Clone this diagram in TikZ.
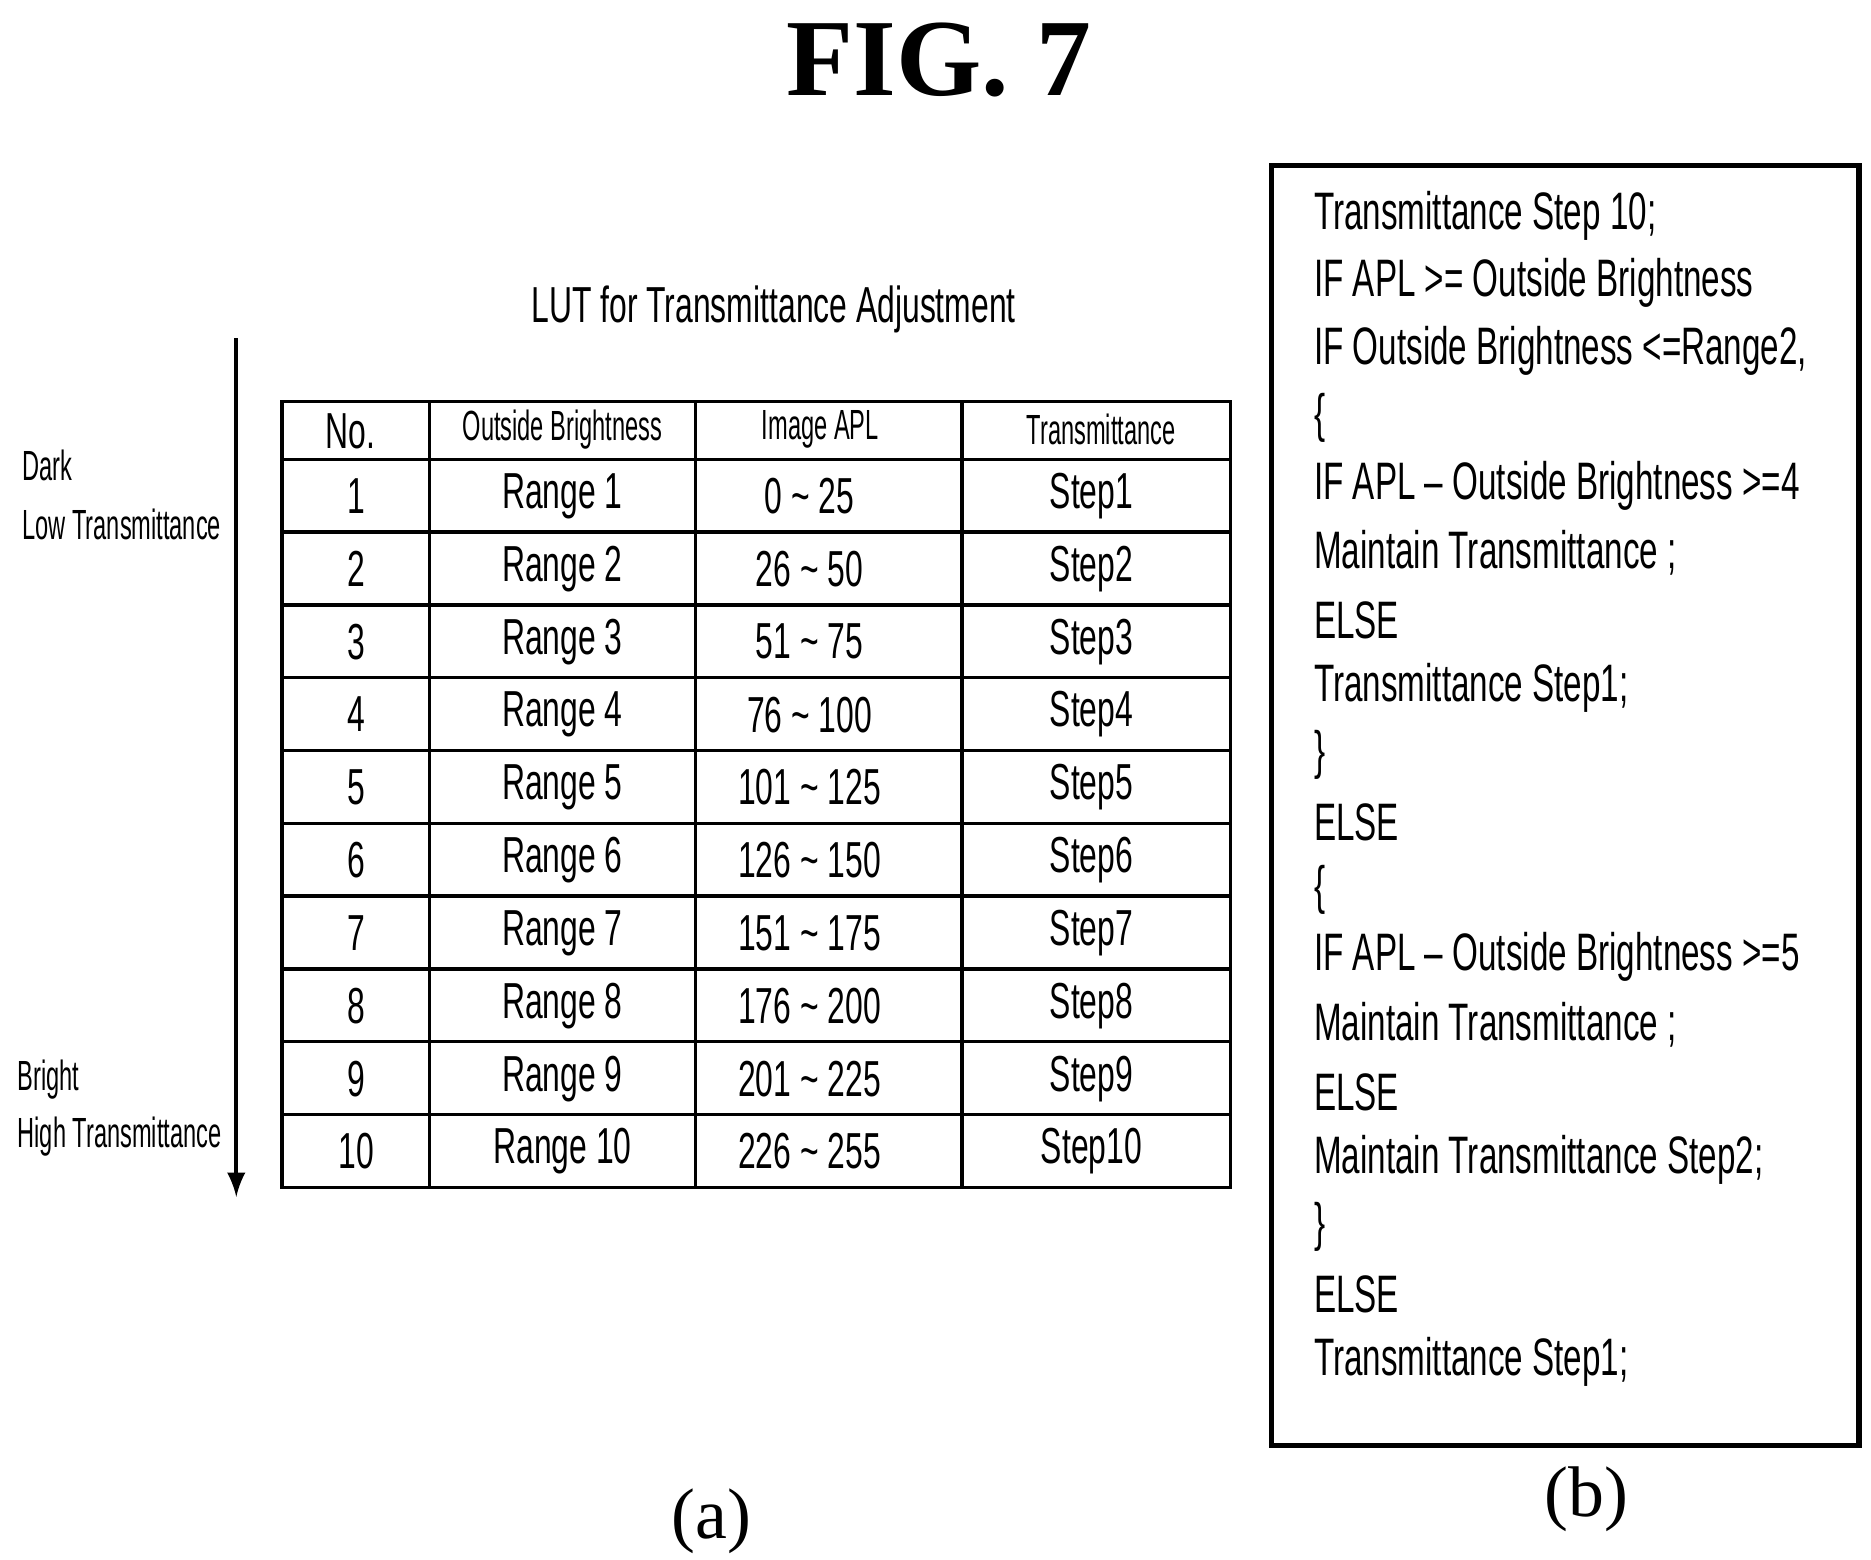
\documentclass[tikz,border=0pt]{standalone}
\usepackage{fontspec}
\setmainfont{Liberation Serif}
\newfontfamily\cond[FakeStretch=0.63]{Liberation Sans}
\newfontfamily\narrow[FakeStretch=0.56]{Liberation Sans}
\usetikzlibrary{positioning}
\tikzset{
  cell/.style={font=\cond\fontsize{12}{14}\selectfont, inner sep=0pt},
  head/.style={font=\narrow\fontsize{10}{12}\selectfont, inner sep=0pt},
  code/.style={font=\cond\fontsize{12.5}{14}\selectfont, anchor=west, inner sep=0pt},
  side/.style={font=\narrow\fontsize{10}{12}\selectfont, anchor=west, inner sep=0pt},
  grid/.style={line width=0.8pt}
}
\begin{document}
\begin{tikzpicture}[x=0.01cm,y=-0.01cm]
  \useasboundingbox (0,0) rectangle (1560,1300);
  \node [font=\bfseries\fontsize{26}{30}\selectfont] (fig) at (783,50) {FIG. 7};
  \node [cell] (lut) at (645,258) {LUT for Transmittance Adjustment};
  % table
  \draw [grid] (235,335) rectangle (1026,990);
  \foreach \x in {358,580,802} {
    \draw [grid] (\x,335) -- (\x,990);
  }
  \draw [grid] (235,383) -- (1026,383);
  \foreach \i in {1,...,9} {
    \draw [grid] (235,{383+60.7*\i}) -- (1026,{383+60.7*\i});
  }
  \node [cell] (h-no) at (292,360) {No.};
  \node [head] (h-ob) at (469,358) {Outside Brightness};
  \node [head] (h-apl) at (684,358) {Image APL};
  \node [head] (h-tr) at (918,358) {Transmittance};
  \foreach \a/\b [count=\i] in {0/25,26/50,51/75,76/100,101/125,126/150,151/175,176/200,201/225,226/255} {
    \node [cell] (no-\i) at (297,{383+60.7*\i-30}) {\i};
    \node [cell] (rg-\i) at (469,{383+60.7*\i-30}) {Range \i};
    \node [cell] (apl-\i) at (675,{383+60.7*\i-30}) {\a{} \char`~{} \b};
    \node [cell] (st-\i) at (910,{383+60.7*\i-30}) {Step\i};
  }
  % side arrow
  \coordinate (top) at (197,282);
  \coordinate (bot) at (197,998);
  \draw [-latex, line width=1pt] (top) -- (bot);
  \node [side] (dark) at (18,388) {Dark};
  \node [side] (low) at (18,437) {Low Transmittance};
  \node [side] (bright) at (14,900) {Bright};
  \node [side] (high) at (14,948) {High Transmittance};
  % code box
  \draw [line width=1.2pt] (1060,138) rectangle (1550,1205);
  \foreach \t [count=\i from 0] in {Transmittance Step 10;,IF APL >= Outside Brightness,{IF Outside Brightness <=Range2,},\{,IF APL – Outside Brightness >=4,Maintain Transmittance ;,ELSE,Transmittance Step1;,\},ELSE,\{,IF APL – Outside Brightness >=5,Maintain Transmittance ;,ELSE,Maintain Transmittance Step2;,\},ELSE,Transmittance Step1;} {
    \node [code] (ln-\i) at (1095,{180+56.2*\i}) {\t};
  }
  \node [font=\fontsize{17}{20}\selectfont] (cap-a) at (593,1268) {(a)};
  \node [font=\fontsize{17}{20}\selectfont] (cap-b) at (1323,1250) {(b)};
\end{tikzpicture}
\end{document}
